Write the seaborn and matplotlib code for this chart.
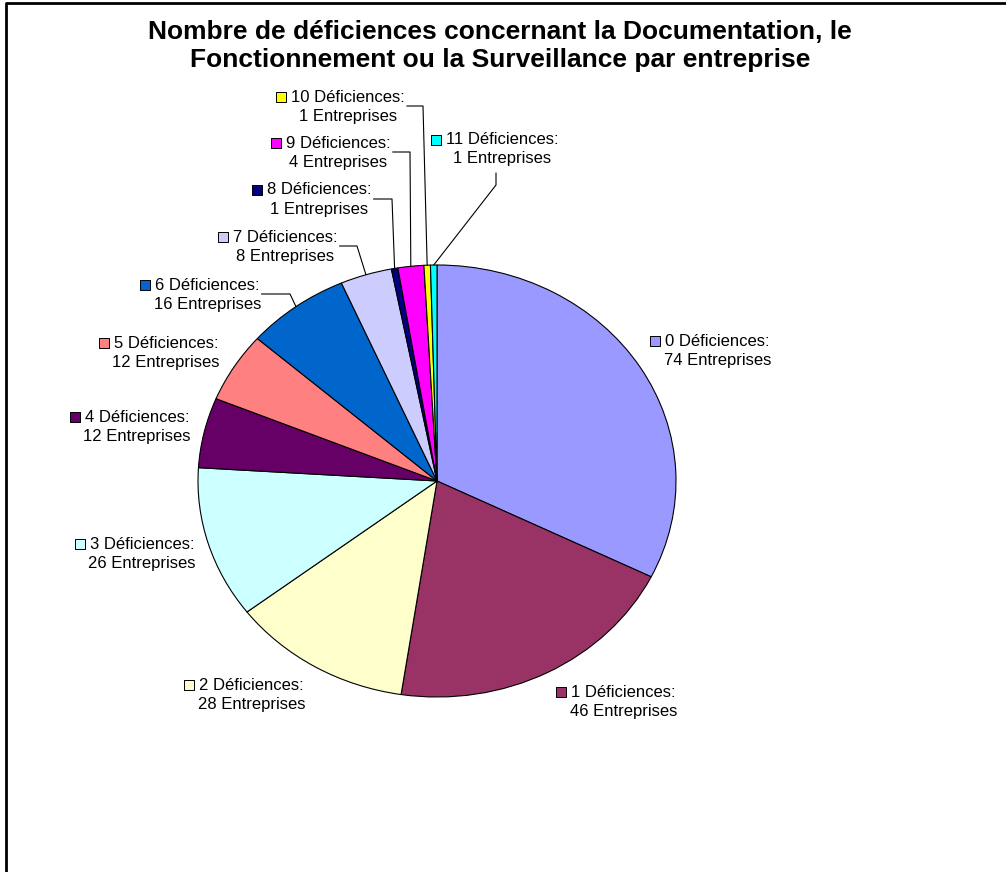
"""
Pie chart: number of deficiencies per company (Documentation / Fonctionnement / Surveillance)
"""

import numpy as np
import matplotlib.pyplot as plt
import seaborn as sns

sns.set_theme(style="white")
plt.rcParams["font.family"] = ["Liberation Sans", "DejaVu Sans"]
plt.rcParams["text.color"] = "black"

# data
deficiences = [0, 1, 2, 3, 4, 5, 6, 7, 8, 9, 10, 11]
entreprises = [74, 46, 28, 26, 12, 12, 16, 8, 1, 4, 1, 1]
line1_labels = [f"{d} Déficiences:" for d in deficiences]
line2_labels = [f"{n} Entreprises" for n in entreprises]

# Excel 2003 pie palette
colors = sns.color_palette([
    "#9999FF", "#993366", "#FFFFCC", "#CCFFFF", "#660066", "#FF8080",
    "#0066CC", "#CCCCFF", "#000080", "#FF00FF", "#FFFF00", "#00FFFF",
])

title = ("Nombre de déficiences concernant la Documentation, le\n"
         "Fonctionnement ou la Surveillance par entreprise")

# layout (pixels, y from top)
W, H = 1006, 872
key_x = [651, 557, 185, 76, 71, 100, 141, 219, 253, 272, 277, 432]
key_y = [341, 692, 685, 544, 417, 343, 285, 237, 190, 143, 97, 140]
elbows = {6: 290, 7: 357, 8: 392, 9: 410, 10: 423}

fig = plt.figure(figsize=(W / 100, H / 100), dpi=100)

# pie drawn in its own axes so it can be stretched like the original
ax_pie = fig.add_axes([198 / W, (H - 697) / H, 478 / W, 432 / H])
wedges, _ = ax_pie.pie(
    entreprises, colors=colors, startangle=90, counterclock=False,
    wedgeprops=dict(edgecolor="black", linewidth=0.8),
)
ax_pie.set_aspect("auto")
ax_pie.set_xlim(-1, 1)
ax_pie.set_ylim(-1, 1)
ax_pie.axis("off")

# overlay in pixel coordinates for labels and leader lines
ax = fig.add_axes([0, 0, 1, 1], zorder=2)
ax.set_xlim(0, W)
ax.set_ylim(H, 0)
ax.axis("off")
ax.patch.set_alpha(0)

# frame (left and top only are visible in the original)
ax.plot([6, 6, W], [H + 5, 3, 3], color="black", lw=2, clip_on=False)

ax.text(500, 46, title, ha="center", va="center", fontsize=19,
        fontweight="bold", linespacing=1.22)

fig.canvas.draw()
renderer = fig.canvas.get_renderer()

for i, w in enumerate(wedges):
    kx, ky = key_x[i], key_y[i]
    ax.scatter([kx + 4.5], [ky], marker="s", s=55, color=colors[i],
               edgecolor="black", linewidth=0.7, zorder=3)
    t1 = ax.text(kx + 14, ky, line1_labels[i], ha="left", va="center",
                 fontsize=12)
    bb = t1.get_window_extent(renderer)
    cx = (bb.x0 + bb.x1) / 2
    ax.text(cx, ky + 19, line2_labels[i], ha="center", va="center",
            fontsize=12)

    # leader line to the middle of the wedge edge
    mid = np.deg2rad((w.theta1 + w.theta2) / 2)
    ex, ey = ax_pie.transData.transform((np.cos(mid), np.sin(mid)))
    ey = H - ey
    if i in elbows:
        xs = [bb.x1 + 2, elbows[i], ex]
        ys = [ky + 9, ky + 9, ey]
        ax.plot(xs, ys, color="black", lw=0.8)
    elif i == 11:
        xs = [496, 496, ex]
        ys = [ky + 33, ky + 45, ey]
        ax.plot(xs, ys, color="black", lw=0.8)

fig.savefig("out.png", dpi=100)
plt.close(fig)
